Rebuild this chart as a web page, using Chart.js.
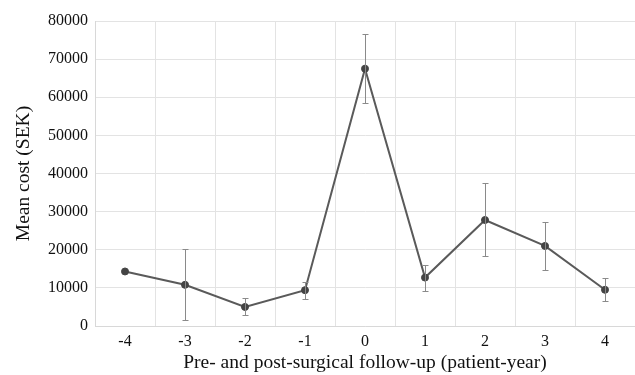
<!DOCTYPE html>
<html><head><meta charset="utf-8">
<script src="https://cdn.jsdelivr.net/npm/chart.js@4"></script>
<style>html,body{margin:0;padding:0;background:#fff;overflow:hidden}
#wrap{width:635px;height:375px;overflow:hidden;position:relative}
#c{position:absolute;left:0;top:0}</style>
</head><body>
<div id="wrap"><canvas id="c" width="640" height="375"></canvas></div>
<script>
const categories = ["-4","-3","-2","-1","0","1","2","3","4"];
const meanCost = [14300, 10800, 5000, 9400, 67500, 12700, 27800, 21000, 9500];
const upperErr = [14300, 20200, 7300, 11600, 76500, 16100, 37400, 27300, 12500];
const lowerErr = [14300, 1500, 2900, 7200, 58400, 9200, 18400, 14700, 6600];
const yTicks = [0,10000,20000,30000,40000,50000,60000,70000,80000];

const errorBars = {
  id:'errorBars',
  afterDatasetsDraw(chart){
    const ctx = chart.ctx, x = chart.scales.x, y = chart.scales.y;
    ctx.save();
    ctx.strokeStyle = '#8a8a8a'; ctx.lineWidth = 1;
    categories.forEach((c,i)=>{
      if (upperErr[i]===lowerErr[i]) return;
      const px = Math.round(x.getPixelForValue(i))+0.5;
      const yt = Math.round(y.getPixelForValue(upperErr[i]))+0.5;
      const yb = Math.round(y.getPixelForValue(lowerErr[i]))+0.5;
      ctx.beginPath();
      ctx.moveTo(px,yt); ctx.lineTo(px,yb);
      ctx.moveTo(px-3,yt); ctx.lineTo(px+3,yt);
      ctx.moveTo(px-3,yb); ctx.lineTo(px+3,yb);
      ctx.stroke();
    });
    ctx.restore();
  }
};

new Chart(document.getElementById('c'),{
  type:'line',
  data:{labels:categories,datasets:[{
    data:meanCost,borderColor:'#5a5a5a',borderWidth:2,
    pointBackgroundColor:'#444',pointBorderColor:'#444',pointRadius:3.5,pointBorderWidth:1,tension:0
  }]},
  options:{
    responsive:false,animation:false,
    layout:{padding:{left:8,right:0,top:21,bottom:0}},
    plugins:{legend:{display:false},tooltip:{enabled:false}},
    scales:{
      x:{offset:true,
        afterFit(ax){ax.height=49;},
        grid:{color:'#e3e3e3',offset:true,drawTicks:false},
        border:{color:'#d8d8d8'},
        ticks:{color:'#111',padding:6,font:{family:'Liberation Serif',size:16}},
        title:{display:true,text:'Pre- and post-surgical follow-up (patient-year)',color:'#111',
          font:{family:'Liberation Serif',size:19.5},padding:{top:0,bottom:0}}
      },
      y:{min:0,max:80000,
        afterFit(ax){ax.width=87;},
        afterBuildTicks(ax){ax.ticks=yTicks.map(v=>({value:v}));},
        grid:{color:'#e3e3e3',drawTicks:false},
        border:{color:'#d8d8d8'},
        ticks:{color:'#111',padding:7,font:{family:'Liberation Serif',size:16},callback:v=>String(v)},
        title:{display:true,text:'Mean cost (SEK)',color:'#111',
          font:{family:'Liberation Serif',size:19.5},padding:{top:4,bottom:4}}
      }
    }
  },
  plugins:[errorBars]
});
</script>
</body></html>
